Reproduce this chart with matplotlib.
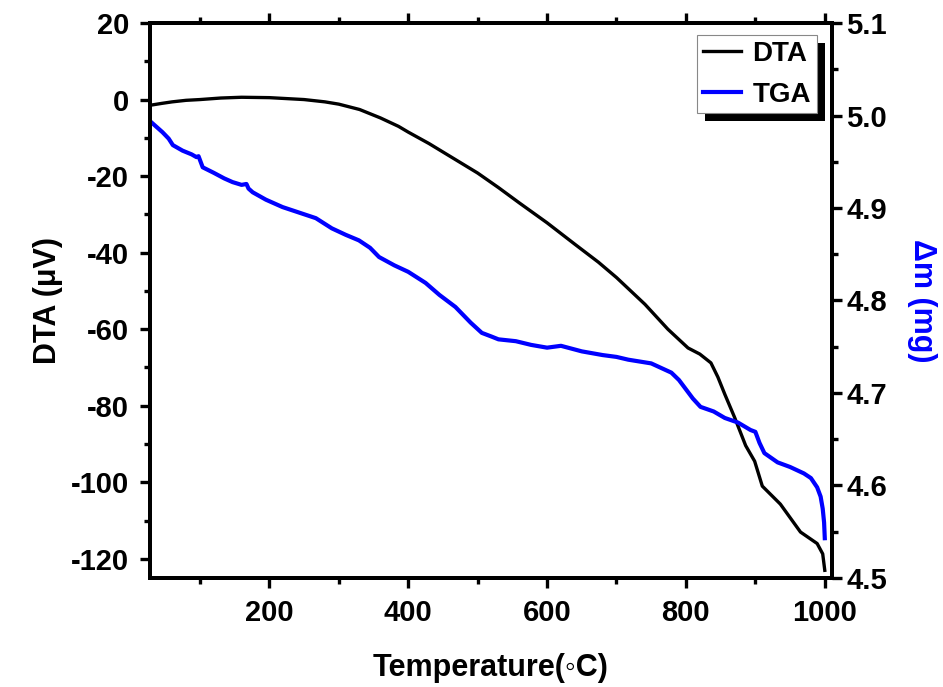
import matplotlib
matplotlib.use("Agg")
import matplotlib.pyplot as plt
from matplotlib.patches import Rectangle
from matplotlib.ticker import MultipleLocator

# Arial-like bold text, DejaVu as fallback for the odd symbols
plt.rcParams['font.family'] = ['Liberation Sans', 'DejaVu Sans']
plt.rcParams['font.weight'] = 'bold'
plt.rcParams['axes.labelweight'] = 'bold'
plt.rcParams['axes.unicode_minus'] = False

# DTA curve (uV) vs temperature (C)
dta_temp = [28, 45, 60, 80, 100, 130, 160, 200, 250, 280, 300, 330, 360, 386, 400,
            430, 460, 500, 530, 560, 600, 640, 674, 700, 741, 774, 803, 820, 836,
            846, 856, 870, 886, 899, 910, 936, 965, 989, 997, 1000]
dta_val = [-1.5, -1.0, -0.6, -0.2, 0.0, 0.4, 0.6, 0.5, 0.0, -0.6, -1.2, -2.6, -4.8,
           -7.0, -8.5, -11.5, -14.8, -19.2, -23.0, -27.0, -32.2, -37.8, -42.5,
           -46.5, -53.5, -60.0, -64.9, -66.5, -68.8, -72.5, -77.0, -83.0, -90.4,
           -94.5, -101.0, -105.7, -113.0, -116.0, -118.7, -123.0]

# TGA curve (mg) vs temperature (C)
tga_temp = [31, 40, 46, 55, 61, 75, 88, 95, 98, 104, 120, 135, 147, 160, 167, 170,
            176, 195, 219, 243, 267, 290, 310, 329, 345, 358, 380, 400, 425, 445,
            468, 490, 506, 520, 530, 555, 577, 600, 620, 650, 680, 700, 717, 750,
            779, 790, 798, 810, 821, 840, 856, 875, 893, 900, 906, 913, 932, 950,
            970, 980, 989, 994, 997, 999, 1000]
tga_mass = [4.992, 4.986, 4.982, 4.975, 4.968, 4.962, 4.958, 4.955, 4.956, 4.944,
            4.938, 4.932, 4.928, 4.925, 4.926, 4.921, 4.917, 4.909, 4.901, 4.895,
            4.889, 4.878, 4.871, 4.865, 4.857, 4.847, 4.838, 4.831, 4.819, 4.806,
            4.793, 4.776, 4.765, 4.761, 4.758, 4.756, 4.752, 4.749, 4.751, 4.745,
            4.741, 4.739, 4.736, 4.732, 4.722, 4.714, 4.706, 4.694, 4.685, 4.680,
            4.673, 4.668, 4.660, 4.658, 4.646, 4.635, 4.625, 4.620, 4.613, 4.608,
            4.598, 4.588, 4.575, 4.560, 4.543]

fig = plt.figure(figsize=(9.43, 6.87), dpi=100)
ax = fig.add_axes([0.159, 0.1587, 0.723, 0.8078])
ax2 = ax.twinx()

l1, = ax.plot(dta_temp, dta_val, color='black', lw=2.4, label='DTA')
l2, = ax2.plot(tga_temp, tga_mass, color='#0000ff', lw=3.0, label='TGA')

ax.set_xlim(28, 1010)
ax.set_ylim(-125, 20)
ax2.set_ylim(4.5, 5.1)

ax.xaxis.set_major_locator(MultipleLocator(200))
ax.xaxis.set_minor_locator(MultipleLocator(100))
ax.yaxis.set_major_locator(MultipleLocator(20))
ax.yaxis.set_minor_locator(MultipleLocator(10))
ax2.yaxis.set_major_locator(MultipleLocator(0.1))
ax2.yaxis.set_minor_locator(MultipleLocator(0.05))
ax2.yaxis.set_major_formatter(plt.FormatStrFormatter('%.1f'))

for a in (ax, ax2):
    for sp in a.spines.values():
        sp.set_linewidth(2.8)
    a.tick_params(which='major', length=7, width=2.4, labelsize=21, direction='out')
    a.tick_params(which='minor', length=4, width=2.4, direction='out')
ax.tick_params(axis='x', which='both', top=True)
ax.tick_params(axis='x', which='major', pad=8)
ax.tick_params(axis='y', which='major', pad=8)

ax.set_xlabel('Temperature(\u25e6C)', fontsize=22, labelpad=19)
ax.set_ylabel('DTA (\u03bcV)', fontsize=22, labelpad=6)
ax2.set_ylabel('\u0394m (mg)', fontsize=22, color='#0000ff', rotation=-90, labelpad=36)

leg = ax2.legend([l1, l2], ['DTA', 'TGA'], loc='upper right',
                 bbox_to_anchor=(0.866, 0.949), bbox_transform=fig.transFigure,
                 fontsize=20, frameon=True, fancybox=False, framealpha=1,
                 edgecolor='#888888', borderpad=0.2, labelspacing=0.55,
                 handlelength=1.4, handletextpad=0.4, borderaxespad=0)
leg.get_frame().set_linewidth(0.8)
leg.set_zorder(5)

# solid black drop shadow behind the legend box
fig.canvas.draw()
bb = leg.get_window_extent()
shadow = Rectangle((bb.x0 + 8, bb.y0 - 8), bb.width, bb.height, transform=None,
                   facecolor='black', edgecolor='none', zorder=4.9, clip_on=False)
ax2.add_artist(shadow)

fig.savefig('out.png', dpi=100)
